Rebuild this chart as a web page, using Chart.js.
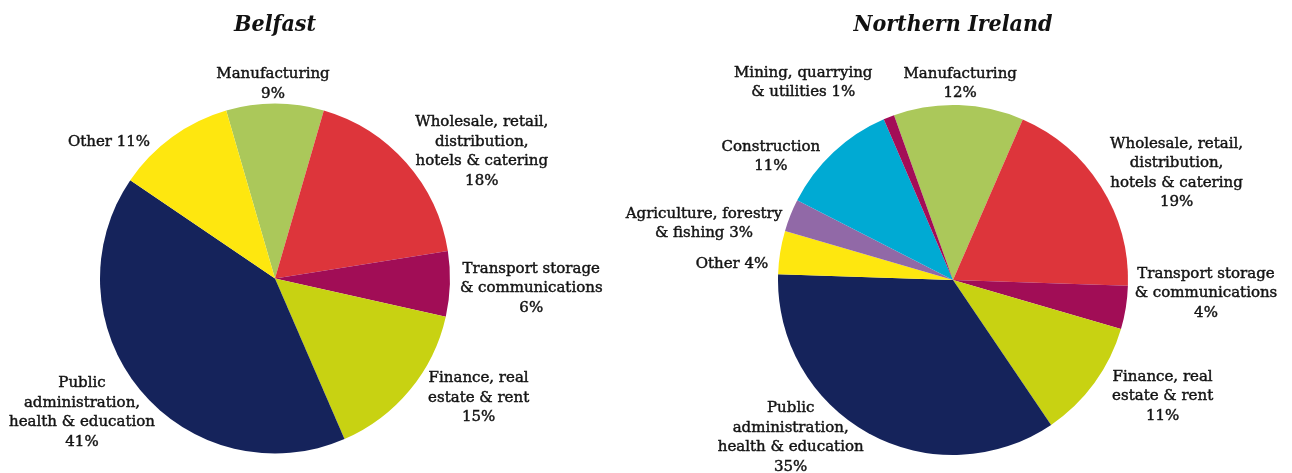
<!DOCTYPE html>
<html>
<head>
<meta charset="utf-8">
<script src="https://cdn.jsdelivr.net/npm/chart.js@4.4.1/dist/chart.umd.min.js"></script>
<style>
  body { margin: 0; background: #fff; }
  #wrap { position: relative; width: 1292px; height: 473px; }
  #wrap canvas { position: absolute; left: 0; top: 0; }
</style>
</head>
<body>
<div id="wrap">
  <canvas id="belfast" width="1292" height="473"></canvas>
  <canvas id="ni" width="1292" height="473"></canvas>
</div>
<script>
// Belfast employment by sector (%)
const belfastSectors = [
  'Manufacturing',
  'Wholesale, retail, distribution, hotels & catering',
  'Transport storage & communications',
  'Finance, real estate & rent',
  'Public administration, health & education',
  'Other'
];
const belfastShares = [9, 18, 6, 15, 41, 11];
const belfastLabelLines = [
  ['Manufacturing', '{v}%'],
  ['Wholesale, retail,', 'distribution,', 'hotels & catering', '{v}%'],
  ['Transport storage', '& communications', '{v}%'],
  ['Finance, real', 'estate & rent', '{v}%'],
  ['Public', 'administration,', 'health & education', '{v}%'],
  ['Other {v}%']
];

// Northern Ireland employment by sector (%)
const niSectors = [
  'Manufacturing',
  'Wholesale, retail, distribution, hotels & catering',
  'Transport storage & communications',
  'Finance, real estate & rent',
  'Public administration, health & education',
  'Other',
  'Agriculture, forestry & fishing',
  'Construction',
  'Mining, quarrying & utilities'
];
const niShares = [12, 19, 4, 11, 35, 4, 3, 11, 1];
const niLabelLines = [
  ['Manufacturing', '{v}%'],
  ['Wholesale, retail,', 'distribution,', 'hotels & catering', '{v}%'],
  ['Transport storage', '& communications', '{v}%'],
  ['Finance, real', 'estate & rent', '{v}%'],
  ['Public', 'administration,', 'health & education', '{v}%'],
  ['Other {v}%'],
  ['Agriculture, forestry', '& fishing {v}%'],
  ['Construction', '{v}%'],
  ['Mining, quarrying', '& utilities {v}%']
];

const sectorColours = {
  'Manufacturing': '#abc85a',
  'Wholesale, retail, distribution, hotels & catering': '#dd353b',
  'Transport storage & communications': '#a10d56',
  'Finance, real estate & rent': '#c8d212',
  'Public administration, health & education': '#15235b',
  'Other': '#fee70f',
  'Agriculture, forestry & fishing': '#9169a7',
  'Construction': '#00aad3',
  'Mining, quarrying & utilities': '#a30d57'
};

const labelFont = '15px "DejaVu Serif"';
const lineHeight = 19.5;

// writes each sector's name and share just outside its slice
function sliceLabels(lines, nudges) {
  return {
    id: 'sliceLabels',
    afterDatasetsDraw(chart) {
      const ctx = chart.ctx;
      const meta = chart.getDatasetMeta(0);
      const values = chart.data.datasets[0].data;
      ctx.save();
      ctx.font = labelFont;
      ctx.fillStyle = '#141414';
      ctx.strokeStyle = '#141414';
      ctx.lineWidth = 0.45;   // a touch heavier than the regular face
      ctx.textAlign = 'center';
      ctx.textBaseline = 'middle';
      meta.data.forEach((arc, i) => {
        const p = arc.getProps(['x', 'y', 'startAngle', 'endAngle', 'outerRadius'], true);
        const mid = (p.startAngle + p.endAngle) / 2;
        const c = Math.cos(mid), s = Math.sin(mid);
        const r = p.outerRadius + 12;
        const ax = p.x + c * r;
        const ay = p.y + s * r;
        const text = lines[i].map(t => t.replace('{v}', values[i]));
        const w = Math.max(...text.map(t => ctx.measureText(t).width));
        const h = text.length * lineHeight;
        let cx = ax, cy = ay;
        if (c > 0.3) cx = ax + w / 2;
        else if (c < -0.3) cx = ax - w / 2;
        if (s < -0.9) cy = ay - h / 2;
        else if (s > 0.9) cy = ay + h / 2;
        const n = nudges[i] || [0, 0];
        cx += n[0];
        cy += n[1];
        text.forEach((t, k) => {
          const ty = cy - h / 2 + lineHeight * (k + 0.5);
          ctx.fillText(t, cx, ty);
          ctx.strokeText(t, cx, ty);
        });
      });
      ctx.restore();
    }
  };
}

// pieTop: y of the top of the pie; the title sits above it in the layout padding
function makePie(id, title, sectors, shares, rotation, padding, pieTop, lines, nudges) {
  const titleSize = 23, titleLine = 1.2;
  new Chart(document.getElementById(id), {
    type: 'pie',
    data: {
      labels: sectors,
      datasets: [{
        data: shares,
        backgroundColor: sectors.map(s => sectorColours[s]),
        borderWidth: 0,
        hoverOffset: 0
      }]
    },
    options: {
      responsive: false,
      animation: false,
      rotation: rotation,
      layout: { padding: padding },
      events: [],
      plugins: {
        legend: { display: false },
        tooltip: { enabled: false },
        title: {
          display: true,
          text: title,
          color: '#111',
          font: { family: '"DejaVu Serif Condensed", "DejaVu Serif"', size: titleSize, style: 'italic', weight: 'bold', lineHeight: titleLine },
          padding: { top: 0, bottom: pieTop - padding.top - titleSize * titleLine }
        }
      }
    },
    plugins: [sliceLabels(lines, nudges)]
  });
}

makePie('belfast', 'Belfast', belfastSectors, belfastShares, -16.2,
  { top: 11, left: 100, right: 842, bottom: 19.5 }, 103.5,
  belfastLabelLines,
  [[-2, 12], [0, -3], [-2, 4], [9, 0], [24, 15], [-15, 15]]);

makePie('ni', 'Northern Ireland', niSectors, niShares, -19.7,
  { top: 11, left: 778, right: 164, bottom: 18 }, 105,
  niLabelLines,
  [[1, 10], [-1, -7], [-3, -16], [8, 6], [1, -6], [0, 14], [3, 13], [-5, 13], [-12, -4]]);
</script>
</body>
</html>
